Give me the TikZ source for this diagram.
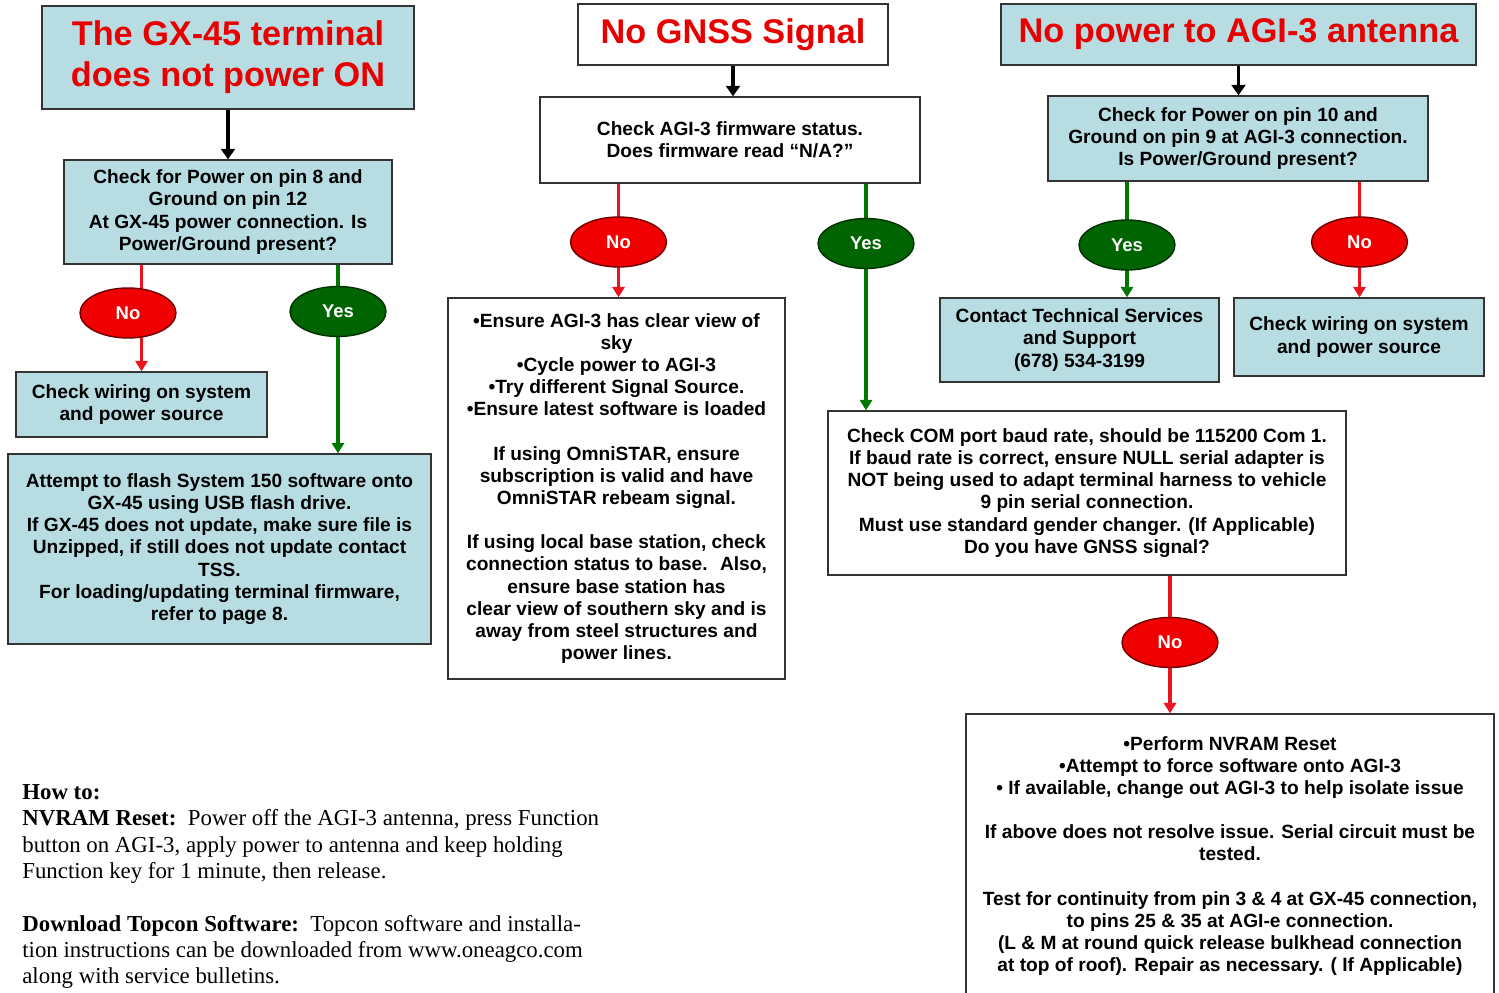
\documentclass[tikz,border=0pt]{standalone}
\usepackage{fontspec}
\setmainfont{Liberation Serif}
\setsansfont{Liberation Sans}
\usetikzlibrary{shapes.geometric,arrows.meta,backgrounds}

\definecolor{boxblue}{RGB}{183,221,227}
\definecolor{titlered}{RGB}{232,0,0}
\definecolor{nofill}{RGB}{240,0,0}
\definecolor{nobdr}{RGB}{110,0,0}
\definecolor{yesfill}{RGB}{0,100,0}
\definecolor{yesbdr}{RGB}{0,50,0}
\definecolor{nowire}{RGB}{235,20,30}
\definecolor{yeswire}{RGB}{0,120,0}

\begin{document}
\begin{tikzpicture}[x=0.02cm, y=-0.02cm,
    box/.style={draw=black!80, line width=0.8pt, align=center, inner sep=2pt,
      font=\sffamily\bfseries\fontsize{10.9}{12.6}\selectfont},
    bluebox/.style={box, fill=boxblue},
    whitebox/.style={box, fill=white},
    title/.style={text=titlered, font=\sffamily\bfseries\fontsize{19.5}{23.2}\selectfont},
    bubble/.style={ellipse, line width=0.8pt, minimum width=1.92cm, minimum height=1cm,
      inner sep=0pt, text=white, font=\sffamily\bfseries\fontsize{10.5}{12}\selectfont},
    nobubble/.style={bubble, draw=nobdr, fill=nofill},
    yesbubble/.style={bubble, draw=yesbdr, fill=yesfill},
    downarrow/.style={-{Triangle[width=8pt,length=6pt]}, line width=2.2pt},
    noline/.style={-{Triangle[width=7pt,length=6pt]}, line width=1.8pt, draw=nowire, fill=nowire},
    yesline/.style={-{Triangle[width=7pt,length=6pt]}, line width=1.8pt, draw=yeswire, fill=yeswire},
    notes/.style={align=left, inner sep=0pt, font=\rmfamily\fontsize{13}{15}\selectfont}]
  \path[use as bounding box, clip] (0,0) rectangle (1499,993);

  % left column
  \node [bluebox, title, minimum width=7.44cm, minimum height=2.06cm] (T1) at (228,57.5)
    {The GX-45 terminal\\does not power ON};
  \node [bluebox, minimum width=6.56cm, minimum height=2.08cm] (Q1) at (228,212)
    {Check for Power on pin 8 and\\Ground on pin 12\\At GX-45 power connection. Is\\Power/Ground present?};
  \node [nobubble] (No1) at (128,313) {No};
  \node [yesbubble] (Yes1) at (338,311.5) {Yes};
  \node [bluebox, minimum width=5.02cm, minimum height=1.30cm] (W1) at (141.5,404.5)
    {Check wiring on system\\and power source};
  \node [bluebox, minimum width=8.46cm, minimum height=3.80cm] (F1) at (219.5,549)
    {Attempt to flash System 150 software onto\\GX-45 using USB flash drive.\\If GX-45 does not update, make sure file is\\Unzipped, if still does not update contact\\TSS.\\For loading/updating terminal firmware,\\refer to page 8.};

  % middle column
  \node [whitebox, title, minimum width=6.2cm, minimum height=1.22cm] (T2) at (733,34.5)
    {No GNSS Signal};
  \node [whitebox, minimum width=7.6cm, minimum height=1.72cm] (Q2) at (730,140)
    {Check AGI-3 firmware status.\\Does firmware read “N/A?”};
  \node [nobubble] (No2) at (618.5,242) {No};
  \node [yesbubble] (Yes2) at (866,243.5) {Yes};
  \node [whitebox, minimum width=6.74cm, minimum height=7.62cm] (M1) at (616.5,488.5)
    {•Ensure AGI-3 has clear view of\\sky\\•Cycle power to AGI-3\\•Try different Signal Source.\\•Ensure latest software is loaded\\[12.6pt]
     If using OmniSTAR, ensure\\subscription is valid and have\\OmniSTAR rebeam signal.\\[12.6pt]
     If using local base station, check\\connection status to base.~ Also,\\ensure base station has\\clear view of southern sky and is\\away from steel structures and\\power lines.};
  \node [whitebox, minimum width=10.36cm, minimum height=3.28cm] (C2) at (1087,493)
    {Check COM port baud rate, should be 115200 Com 1.\\If baud rate is correct, ensure NULL serial adapter is\\NOT being used to adapt terminal harness to vehicle\\9 pin serial connection.\\Must use standard gender changer. (If Applicable)\\Do you have GNSS signal?};
  \node [nobubble] (No3) at (1170,642.5) {No};
  \node [whitebox, minimum width=10.56cm, minimum height=5.68cm] (R) at (1230,856)
    {•Perform NVRAM Reset\\•Attempt to force software onto AGI-3\\• If available, change out AGI-3 to help isolate issue\\[12.6pt]
     If above does not resolve issue. Serial circuit must be\\tested.\\[12.6pt]
     Test for continuity from pin 3 \& 4 at GX-45 connection,\\to pins 25 \& 35 at AGI-e connection.\\(L \& M at round quick release bulkhead connection\\at top of roof). Repair as necessary. ( If Applicable)};

  % right column
  \node [bluebox, title, minimum width=9.5cm, minimum height=1.22cm] (T3) at (1238.5,34.5)
    {No power to AGI-3 antenna};
  \node [bluebox, minimum width=7.6cm, minimum height=1.70cm] (Q3) at (1238,138.5)
    {Check for Power on pin 10 and\\Ground on pin 9 at AGI-3 connection.\\Is Power/Ground present?};
  \node [yesbubble] (Yes3) at (1127,245) {Yes};
  \node [nobubble] (No4) at (1359.5,242) {No};
  \node [bluebox, minimum width=5.58cm, minimum height=1.68cm] (S) at (1079.5,340)
    {Contact Technical Services\\and Support\\(678) 534-3199};
  \node [bluebox, minimum width=5.0cm, minimum height=1.56cm] (W3) at (1359,337)
    {Check wiring on system\\and power source};

  % notes
  \node [notes, anchor=north west] (howto) at (22,784)
    {\textbf{How to:}\\
     \textbf{NVRAM Reset:}~~Power off the AGI-3 antenna, press Function\\
     button on AGI-3, apply power to antenna and keep holding\\
     Function key for 1 minute, then release.\\[15pt]
     \textbf{Download Topcon Software:}~~Topcon software and installa-\\
     tion instructions can be downloaded from www.oneagco.com\\
     along with service bulletins.};

  % connectors, behind the bubbles
  \begin{pgfonlayer}{background}
    \draw [downarrow] (T1) -- (Q1);
    \draw [downarrow] (T2) -- (T2 |- Q2.north);
    \draw [downarrow] (T3) -- (T3 |- Q3.north);
    \draw [noline] (Q1.south -| W1) -- (W1.north);
    \draw [yesline] (Q1.south -| Yes1) -- (F1.north -| Yes1);
    \draw [noline] (Q2.south -| No2) -- (M1.north -| No2);
    \draw [yesline] (Q2.south -| Yes2) -- (C2.north -| Yes2);
    \draw [noline] (C2.south -| No3) -- (R.north -| No3);
    \draw [yesline] (Q3.south -| Yes3) -- (S.north -| Yes3);
    \draw [noline] (Q3.south -| No4) -- (W3.north -| No4);
  \end{pgfonlayer}
\end{tikzpicture}
\end{document}
